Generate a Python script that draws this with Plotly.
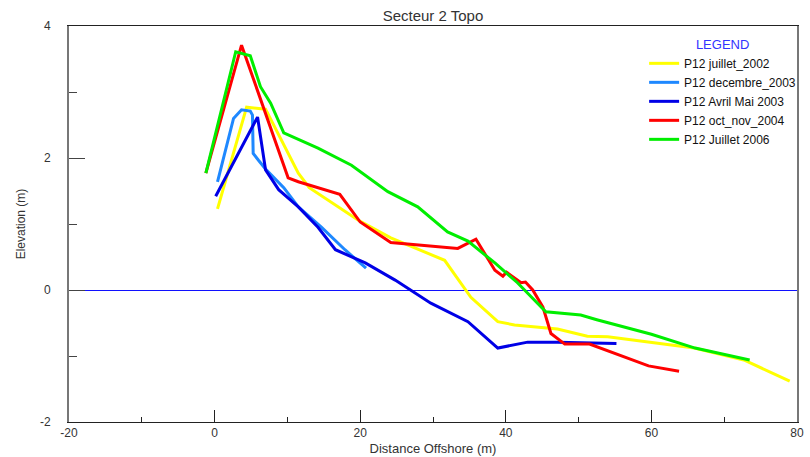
import plotly.graph_objects as go

# Data
names = ["P12 juillet_2002", "P12 decembre_2003", "P12 Avril Mai 2003", "P12 oct_nov_2004", "P12 Juillet 2006"]
colors = ["#FFFF00", "#1E88FF", "#0000E6", "#FF0000", "#00EE00"]

x_2002 = [0.4, 4.4, 7.0, 11.5, 13.0, 19.7, 24.2, 31.6, 35.2, 38.9, 41.2, 44.4, 47.1, 51.2, 54.0, 65.9, 72.7, 79.0]
y_2002 = [1.23, 2.77, 2.74, 1.77, 1.55, 1.06, 0.79, 0.45, -0.11, -0.48, -0.53, -0.56, -0.59, -0.70, -0.71, -0.88, -1.06, -1.38]

x_dec2003 = [0.4, 2.6, 3.7, 4.9, 5.2, 5.3, 6.0, 7.1, 9.5, 11.5, 14.7, 17.9, 20.8]
y_dec2003 = [1.64, 2.60, 2.73, 2.71, 2.65, 2.07, 1.97, 1.82, 1.55, 1.26, 0.95, 0.61, 0.33]

x_avr2003 = [0.15, 5.9, 7.0, 8.8, 11.5, 14.2, 16.6, 20.7, 24.8, 29.7, 34.8, 38.9, 43.0, 47.1, 55.2]
y_avr2003 = [1.42, 2.62, 1.82, 1.52, 1.26, 0.95, 0.61, 0.41, 0.15, -0.20, -0.48, -0.88, -0.79, -0.79, -0.81]

x_2004 = [-1.2, 3.7, 10.1, 11.5, 17.2, 20.0, 24.2, 29.7, 33.4, 35.9, 38.5, 39.6, 40.1, 42.1, 42.7, 43.7, 45.1, 46.2, 48.1, 51.5, 55.5, 59.6, 63.8]
y_2004 = [1.77, 3.71, 1.70, 1.64, 1.45, 1.03, 0.72, 0.66, 0.63, 0.77, 0.30, 0.21, 0.27, 0.11, 0.12, 0.00, -0.26, -0.66, -0.82, -0.82, -0.98, -1.15, -1.23]

x_2006 = [-1.2, 2.9, 4.9, 6.3, 7.7, 9.5, 14.2, 18.8, 23.8, 27.9, 32.0, 34.8, 38.5, 41.6, 45.5, 47.1, 50.3, 52.5, 60.0, 66.0, 73.5]
y_2006 = [1.77, 3.61, 3.55, 3.08, 2.83, 2.38, 2.15, 1.89, 1.49, 1.26, 0.88, 0.74, 0.41, 0.11, -0.33, -0.35, -0.38, -0.45, -0.67, -0.88, -1.06]

xs = [x_2002, x_dec2003, x_avr2003, x_2004, x_2006]
ys = [y_2002, y_dec2003, y_avr2003, y_2004, y_2006]

x_ticks = [-20, 0, 20, 40, 60, 80]
x_tick_labels = ["-20", "0", "20", "40", "60", "80"]
y_ticks = [-2, 0, 2, 4]
y_tick_labels = ["-2", "0", "2", "4"]

FONT = "Liberation Sans"
TXT = "#333333"

fig = go.Figure()
for n, c, xv, yv in zip(names, colors, xs, ys):
    fig.add_trace(go.Scatter(x=xv, y=yv, mode="lines", name=n,
                             line=dict(color=c, width=3)))

fig.update_layout(
    width=810, height=457,
    margin=dict(l=69, r=9, t=26, b=35),
    paper_bgcolor="white", plot_bgcolor="white",
    font=dict(family=FONT, size=12, color=TXT),
    title=dict(text="Secteur 2 Topo", x=0.5, xref="paper", y=0.965, yref="container",
               xanchor="center", yanchor="middle", font=dict(size=15, color=TXT)),
    showlegend=True,
    legend=dict(x=0.79, y=0.985, xanchor="left", yanchor="top",
                bgcolor="rgba(0,0,0,0)", borderwidth=0,
                font=dict(size=12, color="#111111", family=FONT),
                title=dict(text="LEGEND", side="top center",
                           font=dict(color="#3333FF", size=13, family=FONT)),
                tracegroupgap=0, itemwidth=30),
    xaxis=dict(range=[-20, 80], tickvals=x_ticks, ticktext=x_tick_labels,
               ticks="inside", ticklen=12, automargin=False,
               tickcolor="#222", showgrid=False, zeroline=False,
               showline=True, linecolor="#222", linewidth=1, mirror=True,
               minor=dict(tickvals=[-10, 10, 30, 50, 70], ticks="inside", ticklen=5, tickcolor="#222"),
               title=dict(text="Distance Offshore (m)", standoff=4, font=dict(size=13)),
               tickfont=dict(size=12)),
    yaxis=dict(range=[-2, 4], tickvals=y_ticks, ticktext=y_tick_labels,
               ticks="inside", ticklen=16, automargin=False,
               tickcolor="#444", showgrid=False,
               zeroline=True, zerolinecolor="#1010FF", zerolinewidth=1,
               showline=True, linecolor="#777", linewidth=2, mirror=True,
               minor=dict(tickvals=[-1, 1, 3], ticks="inside", ticklen=8, tickcolor="#444"),
               ticklabelstandoff=14,
               title=dict(text="Elevation (m)", standoff=12, font=dict(size=12)),
               tickfont=dict(size=12)),
)

fig.write_html("out.html")
